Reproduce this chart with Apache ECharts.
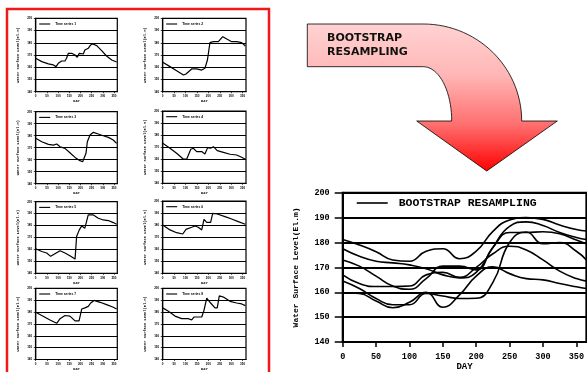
<!DOCTYPE html>
<html>
<head>
<meta charset="utf-8">
<title>Bootstrap resampling</title>
<script src="https://cdn.jsdelivr.net/npm/echarts@6/dist/echarts.min.js"></script>
<style>
  html, body { margin: 0; padding: 0; background: #fff; }
  #chart { width: 587px; height: 372px; }
</style>
</head>
<body>
<div id="chart"></div>
<script>
// small panels, [day, water surface level]
const panel1 = [[0, 167.3], [27, 164.6], [57, 162.7], [79, 161.9], [91, 160.5], [101, 163.2], [116, 165.1], [131, 165.1], [138, 167.3], [146, 171.4], [161, 171.4], [176, 170], [186, 168.1], [195, 171.4], [213, 170.8], [220, 174.1], [235, 175.5], [246, 178.2], [255, 179], [273, 177.7], [295, 173.6], [317, 169.2], [340, 165.9], [362, 164.3]]
const panel2 = [[0, 164], [32, 160.5], [61, 157.2], [91, 153.6], [102, 154.5], [127, 158.6], [149, 158.6], [171, 157.7], [185, 159.1], [196, 165.9], [207, 180.1], [222, 180.9], [244, 180.9], [263, 185], [283, 182.8], [302, 180.9], [324, 180.9], [346, 180.1], [362, 177.4]]
const panel3 = [[0, 177.8], [27, 175], [57, 172.8], [79, 172.2], [94, 173.1], [109, 170.8], [131, 169.4], [153, 165.8], [176, 161.9], [198, 159.2], [210, 158.3], [216, 157.5], [225, 165.3], [231, 175], [243, 180.6], [258, 182.8], [280, 181.4], [302, 180], [325, 178.6], [347, 176.4], [362, 173.6]]
const panel4 = [[0, 173.2], [32, 169.1], [61, 164.9], [91, 160], [105, 160], [123, 168.3], [134, 169.1], [149, 166.3], [171, 166.3], [185, 164.4], [197, 169.6], [210, 169.1], [215, 167.7], [222, 170.4], [239, 167.1], [266, 165.7], [295, 164.1], [324, 163.5], [346, 161.6], [362, 160]]
const panel5 = [[0, 160.6], [27, 158.3], [49, 157], [67, 154.2], [86, 156.4], [109, 158.9], [131, 157], [153, 154.7], [176, 151.9], [183, 170.8], [195, 176.4], [206, 179.7], [220, 177.8], [228, 178.6], [235, 188.9], [258, 188.9], [280, 186.1], [302, 184.7], [325, 184.2], [347, 182.5], [362, 181.1]]
const panel6 = [[0, 180.1], [32, 176], [61, 173.7], [88, 172.6], [102, 176.5], [127, 178.2], [142, 179.3], [156, 178.2], [171, 176], [181, 184.8], [193, 182.3], [210, 182.3], [219, 189.8], [239, 189.2], [273, 187], [302, 185.1], [331, 182.9], [362, 180.7]]
const panel7 = [[0, 179.9], [27, 177.1], [64, 173.3], [94, 170.5], [109, 174.4], [131, 177.1], [153, 176.6], [176, 172.5], [194, 172.5], [206, 182.6], [220, 183.5], [235, 184.8], [246, 187.6], [261, 189.8], [288, 188.2], [317, 186.2], [347, 184], [362, 182.6]]
const panel8 = [[0, 183.5], [25, 180.7], [54, 176.6], [83, 174.4], [112, 174.4], [127, 173.3], [137, 175.8], [171, 175.8], [181, 181.5], [193, 191.7], [210, 187.6], [229, 183.5], [239, 183.5], [248, 193.7], [266, 192.6], [295, 189], [324, 187.6], [346, 186.8], [362, 185.4]]
const panelNames = ['Time series 1', 'Time series 2', 'Time series 3', 'Time series 4',
  'Time series 5', 'Time series 6', 'Time series 7', 'Time series 8']

// bootstrap curves of the big chart
const bigDays = [0, 25, 50, 75, 100, 125, 150, 175, 200, 225, 250, 275, 300, 325, 350, 365]
const boot1 = [181.2, 179, 176.3, 173, 172.5, 176.5, 177.5, 173.5, 176.5, 184.5, 189, 190, 189.3, 187, 185.2, 184.6]
const boot2 = [177.5, 174.5, 172.5, 171.8, 171, 169.5, 167, 165.8, 168, 178, 186.5, 188.3, 186.8, 184, 182, 181.2]
const boot3 = [173, 170.5, 166.5, 162.5, 161.2, 165.5, 170.5, 170.5, 169, 178, 184, 184, 184.3, 183.5, 181, 179.5]
const boot4 = [164.5, 161.5, 157.5, 155, 155, 159.5, 158.5, 157.5, 157.6, 164, 180, 184.2, 179.5, 180, 176.5, 173]
const boot5 = [167, 163.5, 162.3, 162.3, 162.5, 167, 168, 166, 170, 175.5, 178.5, 177, 173, 168.5, 165.5, 164.5]
const boot6 = [159.8, 159.5, 156.5, 153.8, 156, 160, 154, 159, 166.5, 170.2, 167.5, 165.5, 165, 163.5, 162.2, 161.5]
const bigName = 'BOOTSTRAP RESAMPLING'

const dayRange = [0, 365]
const dayStep = 50
const levelRange = [140, 200]
const levelStep = 10

const mono = '"Liberation Mono", "Courier New", monospace'
const panels = [panel1, panel2, panel3, panel4, panel5, panel6, panel7, panel8]
// left, top, width, height of each small plot
const panelBoxes = [
  [35.7, 18.3, 81.6, 73.4], [162.7, 18.3, 83.3, 73.4],
  [35.7, 111.7, 81.6, 72], [162.7, 111, 83.3, 72.3],
  [35.7, 201.7, 81.6, 71.6], [162.7, 201, 83.3, 72.3],
  [35.7, 288.3, 81.6, 72.7], [162.7, 288.3, 83.3, 72.7]
]

const grids = []
const xAxes = []
const yAxes = []
const series = []
const legends = []

panels.forEach((data, i) => {
  const b = panelBoxes[i]
  grids.push({ left: b[0], top: b[1], width: b[2], height: b[3], show: true, borderColor: '#000', borderWidth: 1.2 })
  xAxes.push({
    gridIndex: i, type: 'value', min: dayRange[0], max: dayRange[1], interval: dayStep,
    name: 'DAY', nameLocation: 'middle', nameGap: 7.5,
    nameTextStyle: { fontFamily: mono, fontWeight: 'bold', fontSize: 3.6, color: '#000' },
    axisLine: { lineStyle: { color: '#000', width: 1.2 } },
    axisTick: { length: 1.5, lineStyle: { color: '#000', width: 0.7 } },
    axisLabel: { fontSize: 3, fontWeight: 'bold', color: '#000', margin: 3, showMaxLabel: false },
    splitLine: { show: false }
  })
  yAxes.push({
    gridIndex: i, type: 'value', min: levelRange[0], max: levelRange[1], interval: levelStep,
    name: 'Water Surface Level(El.m)', nameLocation: 'middle', nameGap: 15.5,
    nameTextStyle: { fontFamily: mono, fontWeight: 'bold', fontSize: 3.7, color: '#000' },
    axisLine: { lineStyle: { color: '#000', width: 1.2 } },
    axisTick: { length: 2, lineStyle: { color: '#000', width: 0.7 } },
    axisLabel: { fontSize: 3, fontWeight: 'bold', color: '#000', margin: 3.5 },
    splitLine: { lineStyle: { color: '#000', width: 1.1 } }
  })
  series.push({
    type: 'line', name: panelNames[i], xAxisIndex: i, yAxisIndex: i, data,
    symbol: 'none', lineStyle: { color: '#000', width: 1.2 }, itemStyle: { color: '#000' }
  })
  legends.push({
    data: [panelNames[i]], left: b[0] + 3.5, top: b[1] + 4.2, padding: 0,
    icon: 'rect', itemWidth: 11, itemHeight: 1.1, selectedMode: false,
    textStyle: { fontSize: 3.3, fontWeight: 'bold', color: '#000' }
  })
})

// big chart
const bi = panels.length
grids.push({ left: 342.7, top: 192.7, width: 248, height: 155.3, show: true, borderColor: '#000', borderWidth: 2 })
xAxes.push({
  gridIndex: bi, type: 'value', min: dayRange[0], max: dayRange[1], interval: dayStep,
  name: 'DAY', nameLocation: 'middle', nameGap: 18.5,
  nameTextStyle: { fontFamily: mono, fontWeight: 'bold', fontSize: 9, color: '#000' },
  axisLine: { lineStyle: { color: '#000', width: 2 } },
  axisTick: { length: 5, lineStyle: { color: '#000', width: 1.5 } },
  axisLabel: { fontFamily: mono, fontSize: 8.5, fontWeight: 'bold', color: '#000', margin: 10, showMaxLabel: false },
  splitLine: { show: false }
})
yAxes.push({
  gridIndex: bi, type: 'value', min: levelRange[0], max: levelRange[1], interval: levelStep,
  name: 'Water Surface Level(El.m)', nameLocation: 'middle', nameGap: 43,
  nameTextStyle: { fontFamily: mono, fontWeight: 'bold', fontSize: 8, color: '#000' },
  axisLine: { lineStyle: { color: '#000', width: 2 } },
  axisTick: { length: 8, lineStyle: { color: '#000', width: 1.5 } },
  axisLabel: { fontFamily: mono, fontSize: 8.5, fontWeight: 'bold', color: '#000', margin: 13 },
  splitLine: { lineStyle: { color: '#000', width: 2 } }
})
;[boot1, boot2, boot3, boot4, boot5, boot6].forEach(vals => {
  series.push({
    type: 'line', name: bigName, xAxisIndex: bi, yAxisIndex: bi,
    data: bigDays.map((d, k) => [d, vals[k]]),
    smooth: 0.5, symbol: 'none',
    lineStyle: { color: '#000', width: 1.6 }, itemStyle: { color: '#000' }
  })
})
legends.push({
  data: [bigName], left: 356.7, top: 197, padding: 0,
  icon: 'rect', itemWidth: 31, itemHeight: 1.6, selectedMode: false,
  textStyle: { fontFamily: mono, fontWeight: 'bold', fontSize: 11.5, color: '#000', padding: [0, 0, 0, 6] }
})

// curved arrow outline
function arcPoints(cx, cy, rx, ry, a0, a1, n) {
  const pts = []
  for (let k = 0; k <= n; k++) {
    const a = a0 + (a1 - a0) * k / n
    pts.push([cx + rx * Math.cos(a), cy + ry * Math.sin(a)])
  }
  return pts
}
const arrowPts = [[307.3, 24]]
  .concat(arcPoints(423.3, 121, 98.4, 97, -Math.PI / 2, 0, 30))
  .concat([[557.3, 121], [486.7, 171], [416.7, 121]])
  .concat(arcPoints(423.3, 121, 28.4, 54.3, 0, -Math.PI / 2, 20))
  .concat([[307.3, 66.7]])

const chart = echarts.init(document.getElementById('chart'))
chart.setOption({
  animation: false,
  backgroundColor: '#fff',
  grid: grids,
  xAxis: xAxes,
  yAxis: yAxes,
  legend: legends,
  series,
  graphic: [
    {
      type: 'rect', z: 10, silent: true,
      shape: { x: 7, y: 9, width: 262, height: 380 },
      style: { fill: 'none', stroke: '#f01818', lineWidth: 2.5 }
    },
    {
      type: 'polygon', z: 5, silent: true,
      shape: { points: arrowPts },
      style: {
        stroke: '#000', lineWidth: 0.8,
        fill: {
          type: 'linear', x: 0, y: 0, x2: 0, y2: 1,
          colorStops: [
            { offset: 0, color: '#ffd2d2' },
            { offset: 0.35, color: '#ffb6b6' },
            { offset: 0.68, color: '#ff7070' },
            { offset: 1, color: '#ff0000' }
          ]
        }
      }
    },
    {
      type: 'text', z: 6, silent: true, left: 327, top: 31,
      style: {
        text: 'BOOTSTRAP\nRESAMPLING',
        font: 'bold 11px "DejaVu Sans", sans-serif',
        lineHeight: 14.4, fill: '#111'
      }
    }
  ]
})
</script>
</body>
</html>
